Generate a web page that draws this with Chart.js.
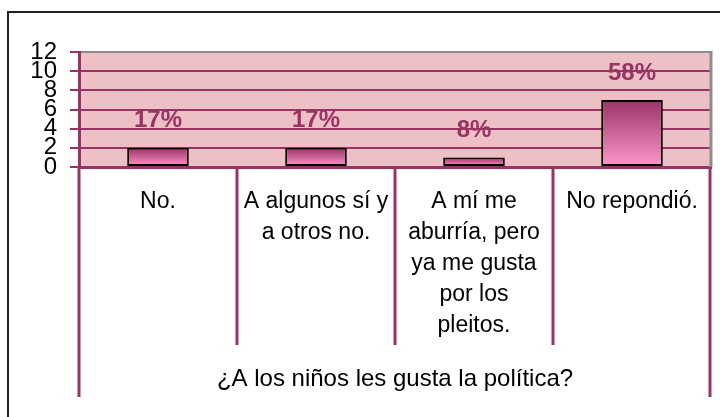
<!DOCTYPE html>
<html>
<head>
<meta charset="utf-8">
<script src="https://cdn.jsdelivr.net/npm/chart.js@4.4.0/dist/chart.umd.min.js"></script>
<style>
  html, body { margin: 0; padding: 0; background: #fff; }
  canvas { display: block; }
</style>
</head>
<body>
<canvas id="chart" width="720" height="417"></canvas>
<script>
// data
const categories = [
  ['No.'],
  ['A algunos sí y', 'a otros no.'],
  ['A mí me', 'aburría, pero', 'ya me gusta', 'por los', 'pleitos.'],
  ['No repondió.']
];
const values = [2, 2, 1, 7];
const pctLabels = ['17%', '17%', '8%', '58%'];
const yTicks = [0, 2, 4, 6, 8, 10, 12];
const axisTitle = '¿A los niños les gusta la política?';

const purple = '#993366';
const fontFamily = '"Liberation Sans", Arial, sans-serif';

// frame, plot background and the gray top/right edge
const framePlugin = {
  id: 'frame',
  beforeDraw(chart) {
    const ctx = chart.ctx;
    const a = chart.chartArea;
    ctx.save();
    ctx.fillStyle = '#ecc0c4';
    ctx.fillRect(a.left, a.top, a.right - a.left, a.bottom - a.top);
    ctx.strokeStyle = '#222';
    ctx.lineWidth = 2;
    ctx.beginPath();
    ctx.moveTo(8, chart.height);
    ctx.lineTo(8, 12);
    ctx.lineTo(chart.width, 12);
    ctx.stroke();
    ctx.restore();
  },
  afterDraw(chart) {
    const ctx = chart.ctx;
    const a = chart.chartArea;
    const xs = chart.scales.x;
    ctx.save();
    // gray right edge of the plot
    ctx.strokeStyle = '#8c8c8c';
    ctx.lineWidth = 3;
    ctx.beginPath();
    ctx.moveTo(a.right, a.top - 1);
    ctx.lineTo(a.right, a.bottom);
    ctx.stroke();
    // category separators below the axis
    ctx.strokeStyle = purple;
    ctx.lineWidth = 3;
    ctx.lineCap = 'butt';
    const n = categories.length;
    for (let i = 0; i <= n; i++) {
      let x;
      if (i === 0) x = xs.left;
      else if (i === n) x = xs.right - 1;
      else x = (xs.getPixelForValue(i - 1) + xs.getPixelForValue(i)) / 2;
      const len = (i === 0 || i === n) ? 230 : 178;
      ctx.beginPath();
      ctx.moveTo(x, a.bottom);
      ctx.lineTo(x, a.bottom + len);
      ctx.stroke();
    }
    ctx.restore();
  }
};

// percentage labels above the bars
const pctPlugin = {
  id: 'pct',
  afterDatasetsDraw(chart) {
    const ctx = chart.ctx;
    const meta = chart.getDatasetMeta(0);
    ctx.save();
    ctx.font = 'bold 24px ' + fontFamily;
    ctx.fillStyle = purple;
    ctx.textAlign = 'center';
    ctx.textBaseline = 'middle';
    meta.data.forEach((bar, i) => {
      ctx.fillText(pctLabels[i], bar.x, bar.y - 27);
    });
    ctx.restore();
  }
};

function barGradient(context) {
  const chart = context.chart;
  const y = chart.scales.y;
  if (!y || context.dataIndex === undefined) return purple;
  const v = values[context.dataIndex];
  const top = y.getPixelForValue(v);
  const bottom = y.getPixelForValue(0);
  if (!isFinite(top) || !isFinite(bottom) || top === bottom) return purple;
  const g = chart.ctx.createLinearGradient(0, top, 0, bottom);
  g.addColorStop(0, '#993366');
  g.addColorStop(1, '#ff99cc');
  return g;
}

new Chart(document.getElementById('chart'), {
  type: 'bar',
  data: {
    labels: categories,
    datasets: [{
      data: values,
      backgroundColor: barGradient,
      borderColor: '#000',
      borderWidth: 2,
      borderSkipped: false,
      categoryPercentage: 1,
      barPercentage: 0.39
    }]
  },
  options: {
    responsive: false,
    animation: false,
    layout: { padding: { left: 0, right: 9, top: 52, bottom: 10 } },
    plugins: {
      legend: { display: false },
      tooltip: { enabled: false }
    },
    scales: {
      x: {
        afterFit(scale) { scale.height = 240; },
        grid: { display: false, drawTicks: false },
        border: { color: purple, width: 3 },
        ticks: {
          autoSkip: false,
          maxRotation: 0,
          padding: 19,
          color: '#000',
          font: { family: fontFamily, size: 23, lineHeight: 1.35 }
        },
        title: {
          display: true,
          text: axisTitle,
          color: '#000',
          font: { family: fontFamily, size: 24 },
          padding: { top: 0, bottom: 13 }
        }
      },
      y: {
        min: 0,
        max: 12,
        afterFit(scale) { scale.width = 79; },
        afterBuildTicks(scale) { scale.ticks = yTicks.map(v => ({ value: v })); },
        grid: {
          color: ctx => (ctx.tick && ctx.tick.value === 12) ? '#8c8c8c' : purple,
          tickColor: purple,
          lineWidth: 2,
          tickLength: 9
        },
        border: { color: purple, width: 3 },
        ticks: {
          autoSkip: false,
          padding: 13,
          color: '#000',
          font: { family: fontFamily, size: 24, lineHeight: 1 }
        }
      }
    }
  },
  plugins: [framePlugin, pctPlugin]
});
</script>
</body>
</html>
